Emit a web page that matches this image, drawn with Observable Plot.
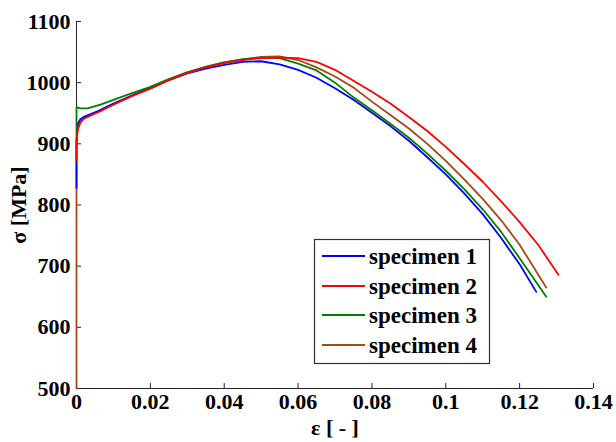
<!DOCTYPE html>
<html><head><meta charset="utf-8">
<script src="https://cdn.jsdelivr.net/npm/d3@7"></script>
<script src="https://cdn.jsdelivr.net/npm/@observablehq/plot@0.6"></script>
<style>
body{margin:0;background:#fff}
#chart svg text{font-family:"Liberation Serif","Times New Roman",serif;font-weight:bold;font-size:22px;fill:#000}
#chart svg text.leg{font-size:23px}
</style></head><body><div id="chart"></div>
<script>
const seriesNames = ["specimen 1", "specimen 2", "specimen 3", "specimen 4"];
const seriesColors = ["#0000ff", "#ff0000", "#008000", "#a5481a"];

const s1x = [0, 0, 0.0003, 0.001, 0.002, 0.004, 0.006, 0.01, 0.015, 0.02, 0.025, 0.03, 0.035, 0.04, 0.045, 0.05, 0.055, 0.06, 0.065, 0.07, 0.075, 0.08, 0.085, 0.09, 0.095, 0.1, 0.105, 0.11, 0.115, 0.12, 0.1245];
const s1y = [828, 900, 932, 940, 944, 949, 954, 966, 979, 991, 1004, 1015, 1023, 1029, 1034, 1035, 1030, 1021, 1008, 991, 972, 951, 929, 905, 878, 850, 819, 785, 746, 703, 658];

const s2x = [0, 0, 0.0003, 0.001, 0.002, 0.004, 0.006, 0.01, 0.015, 0.02, 0.025, 0.03, 0.035, 0.04, 0.045, 0.05, 0.055, 0.06, 0.065, 0.07, 0.075, 0.08, 0.085, 0.09, 0.095, 0.1, 0.105, 0.11, 0.115, 0.12, 0.125, 0.1305];
const s2y = [873, 905, 922, 934, 941, 947, 952, 964, 978, 990, 1004, 1016, 1025, 1032, 1037, 1040, 1041, 1040, 1034, 1021, 1003, 985, 966, 944, 921, 895, 867, 838, 806, 772, 735, 686];

const s3x = [0, 0, 0.001, 0.003, 0.0065, 0.01, 0.0137, 0.02, 0.025, 0.03, 0.035, 0.04, 0.045, 0.05, 0.055, 0.06, 0.065, 0.07, 0.075, 0.08, 0.085, 0.09, 0.095, 0.1, 0.105, 0.11, 0.115, 0.12, 0.1272];
const s3y = [905, 960, 958, 958, 964, 972, 980, 993, 1006, 1017, 1026, 1033, 1038, 1041, 1040, 1031, 1020, 1000, 976, 955, 933, 910, 884, 856, 826, 793, 756, 713, 650];

const s4x = [0, 0, 0.0003, 0.001, 0.002, 0.004, 0.006, 0.01, 0.015, 0.02, 0.025, 0.03, 0.035, 0.04, 0.045, 0.05, 0.055, 0.06, 0.065, 0.07, 0.075, 0.08, 0.085, 0.09, 0.095, 0.1, 0.105, 0.11, 0.115, 0.12, 0.1272];
const s4y = [500, 900, 925, 936, 942, 948, 953, 965, 979, 991, 1005, 1017, 1026, 1033, 1038, 1042, 1043, 1037, 1025, 1010, 992, 969, 947, 925, 900, 872, 842, 810, 775, 735, 665];

const xTicks = [0, 0.02, 0.04, 0.06, 0.08, 0.1, 0.12, 0.14];
const xTickLabels = ["0", "0.02", "0.04", "0.06", "0.08", "0.1", "0.12", "0.14"];
const yTicks = [500, 600, 700, 800, 900, 1000, 1100];
const yTickLabels = ["500", "600", "700", "800", "900", "1000", "1100"];

const xs = [s1x, s2x, s3x, s4x];
const ys = [s1y, s2y, s3y, s4y];
const series = seriesNames.map((name, k) => xs[k].map((x, i) => ({specimen: name, strain: x, stress: ys[k][i]})));
const drawOrder = [3, 0, 2, 1];

const W = 616, H = 442, mL = 76, mR = 23, mT = 21, mB = 54, tickLen = 5;
const axisColor = "#222";
const plot = Plot.plot({
  width: W,
  height: H,
  marginLeft: mL,
  marginRight: mR,
  marginTop: mT,
  marginBottom: mB,
  x: {domain: [0, 0.14]},
  y: {domain: [500, 1100]},
  marks: [
    Plot.ruleY([500], {stroke: axisColor, strokeWidth: 1}),
    Plot.ruleX([0], {stroke: axisColor, strokeWidth: 1}),
    Plot.tickX(xTicks, {x: d => d, stroke: axisColor, insetTop: (H - mT - mB) - tickLen}),
    Plot.tickY(yTicks, {y: d => d, stroke: axisColor, insetRight: (W - mL - mR) - tickLen}),
    Plot.axisX(xTicks, {tickSize: 0, tickPadding: 5, tickFormat: (d, i) => xTickLabels[i], label: "ε [ - ]", labelAnchor: "center", labelArrow: "none", labelOffset: 46}),
    Plot.axisY(yTicks, {tickSize: 0, tickPadding: 6, tickFormat: (d, i) => yTickLabels[i], label: "σ [MPa]", labelAnchor: "center", labelArrow: "none", labelOffset: 66}),
    ...drawOrder.map(k => Plot.line(series[k], {x: "strain", y: "stress", stroke: seriesColors[k], strokeWidth: 1.8}))
  ]
});
document.getElementById("chart").appendChild(plot);

// legend
const svg = d3.select(plot);
const lg = svg.append("g");
lg.append("rect").attr("x", 314.5).attr("y", 239.5).attr("width", 175).attr("height", 124)
  .attr("fill", "#fff").attr("stroke", "#333").attr("stroke-width", 1.2);
const rowY = [256, 286, 315, 345];
seriesNames.forEach((name, i) => {
  lg.append("line").attr("x1", 322).attr("x2", 365).attr("y1", rowY[i]).attr("y2", rowY[i])
    .attr("stroke", seriesColors[i]).attr("stroke-width", 2);
  lg.append("text").attr("class", "leg").attr("x", 369).attr("y", rowY[i]).attr("dy", "0.35em").attr("text-anchor", "start").text(name);
});
</script></body></html>
